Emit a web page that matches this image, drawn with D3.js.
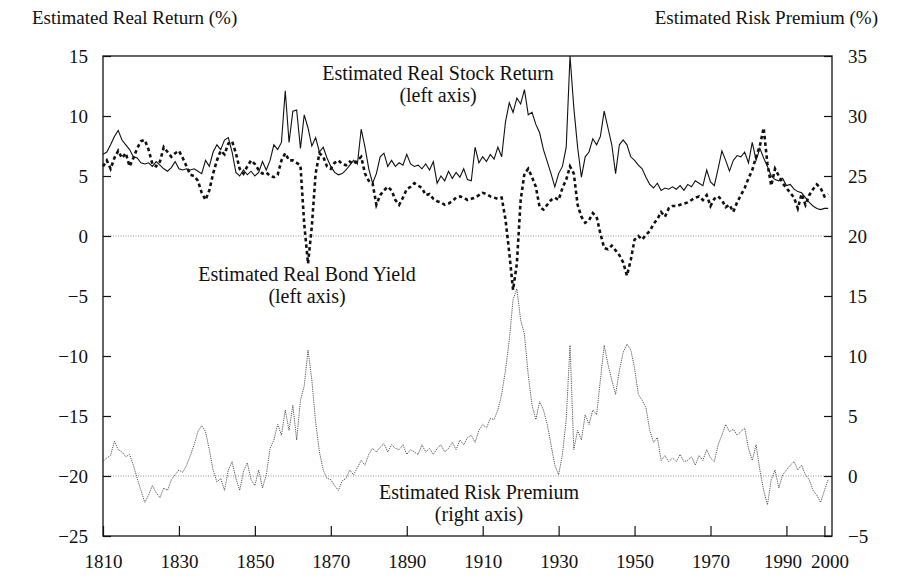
<!DOCTYPE html>
<html>
<head>
<meta charset="utf-8">
<script src="https://cdn.jsdelivr.net/npm/d3@7"></script>
<style>
  body { margin: 0; background: #fff; }
  text { font-family: "Liberation Serif", "Times New Roman", serif; fill: #111; }
</style>
</head>
<body>
<div id="chart-container"></div>
<script>
// annual values, 1810-2001
const years = d3.range(1810, 2002);

// estimated real stock return (%), left axis
const stockReturn = [
  6.8, 7.0, 7.6, 8.3, 8.8, 8.0, 7.6, 7.2, 6.6, 6.5,
  6.1, 6.0, 6.1, 5.8, 6.2, 5.9, 5.6, 5.4, 5.7, 6.2,
  5.6, 5.5, 5.6, 5.5, 5.6, 5.4, 5.2, 6.3, 5.8, 7.0,
  7.6, 7.2, 8.0, 8.2, 7.0, 5.3, 5.0, 5.5, 5.1, 5.4,
  5.0, 5.3, 6.2, 5.5, 6.3, 7.6, 7.2, 7.8, 12.1, 7.8,
  10.4, 10.5, 7.3, 10.1, 9.0, 7.5, 8.2, 7.0, 7.4, 6.5,
  5.8, 5.3, 5.1, 5.2, 5.5, 5.9, 6.3, 6.0, 8.9, 7.4,
  5.6, 4.4, 5.2, 6.6, 6.9, 5.8, 6.3, 5.8, 6.1, 5.9,
  6.8, 6.0, 5.8, 5.9, 5.6, 6.0, 5.5, 6.2, 4.4, 5.0,
  4.6, 5.4, 4.8, 5.3, 4.9, 5.6, 4.7, 4.6, 7.4, 6.1,
  6.6, 6.2, 6.8, 6.4, 7.4, 6.6, 9.5, 11.1, 10.3, 11.5,
  11.0, 12.2, 10.1, 10.3, 9.3, 8.6, 7.2, 6.2, 5.2, 4.1,
  5.2, 5.8, 7.4, 15.0, 10.7, 7.4, 4.9, 6.6, 7.0, 8.1,
  7.6, 8.3, 10.4, 9.0, 7.6, 5.2, 7.6, 8.0, 7.6, 6.6,
  6.3, 5.9, 5.6, 4.9, 4.3, 4.0, 4.4, 3.8, 4.0, 3.9,
  4.1, 3.9, 4.2, 3.8, 4.3, 4.1, 4.6, 4.4, 4.2, 5.5,
  4.5, 4.2, 5.6, 7.1, 6.3, 5.4, 6.3, 6.7, 6.6, 7.0,
  6.1, 7.8, 6.3, 7.3, 6.5, 5.8, 5.0, 4.7, 4.6, 4.8,
  4.2, 4.3, 3.9, 3.7, 3.6, 3.2, 2.8, 2.5, 2.3, 2.2,
  2.3, 2.3
];

// estimated real bond yield (%), left axis
const bondYield = [
  5.8, 6.3, 5.6, 6.5, 7.1, 6.5, 6.9, 5.8, 6.5, 7.3,
  7.9, 8.0, 7.2, 6.0, 5.8, 6.2, 7.4, 7.0, 6.6, 6.9,
  7.1, 6.5, 5.8, 5.1, 5.0, 4.6, 3.6, 3.0, 3.8, 5.2,
  6.3, 7.1, 6.8, 7.7, 7.9, 6.9, 5.6, 5.2, 5.8, 6.3,
  6.0, 5.5, 5.2, 5.3, 5.0, 4.9, 5.1, 6.3, 6.9, 6.3,
  6.3, 6.1, 5.9, 1.0, -2.3, 0.8, 5.2, 6.9, 6.6, 5.8,
  5.6, 6.1, 6.3, 6.0, 5.9, 6.2, 6.0, 6.3, 6.6, 5.2,
  4.6, 4.4, 2.6, 3.4, 3.8, 4.1, 3.8, 3.0, 2.6, 3.2,
  3.9, 4.1, 4.4, 4.2, 4.0, 3.4, 3.5, 3.1, 2.9, 2.8,
  2.6, 2.7, 2.9, 3.2, 3.3, 3.2, 3.0, 3.1, 3.2, 3.4,
  3.6, 3.5, 3.3, 3.2, 3.1, 3.2, 1.4, -1.4, -4.5, -2.3,
  3.0, 5.2, 5.6, 4.9, 4.1, 2.4, 2.2, 2.6, 3.0, 3.2,
  3.0, 4.0, 4.7, 5.8, 5.2, 2.6, 1.6, 1.1, 1.3, 1.9,
  1.6, 0.2, -1.0, -1.1, -0.8, -1.2, -1.6, -2.2, -3.3, -2.0,
  -0.3, 0.0, -0.3, 0.1, 0.4, 1.0, 1.4, 2.0, 1.6, 2.3,
  2.5, 2.5, 2.6, 2.7, 2.8, 3.0, 3.2, 3.3, 3.0, 3.4,
  2.5, 3.1, 3.3, 3.0, 2.4, 2.6, 2.0, 2.8, 3.4, 4.0,
  4.8, 5.5, 6.6, 7.5, 9.0, 6.0, 4.2, 5.6, 5.0, 4.4,
  4.0, 3.6, 3.2, 2.3, 3.5, 2.6, 3.4, 3.9, 4.3, 4.0,
  3.3, 3.5
];

// estimated risk premium (%), right axis
const riskPremium = [
  1.2, 1.5, 1.7, 2.9, 2.2, 2.0, 1.6, 1.8, 0.9, -0.2,
  -1.2, -2.2, -1.6, -0.8, -1.4, -1.8, -1.0, -1.2, -0.3, 0.1,
  0.5, 0.3, 0.9, 1.7, 2.6, 3.7, 4.2, 3.7, 2.2, 0.5,
  -0.5, -0.2, -1.2, 0.5, 1.2, -0.2, -1.2, 0.4, 1.1, -0.3,
  -0.8, 0.5, -1.0, 0.1, 2.3, 3.0, 4.3, 3.4, 5.5, 3.8,
  5.9, 3.0, 6.3, 7.5, 10.5, 8.0, 4.5, 2.0, 0.5, -0.2,
  -0.3, -0.8, -1.2, -0.4, -0.2, 0.5, 0.1, 0.7, 1.3, 0.9,
  1.8, 2.3, 2.0, 2.4, 2.7, 2.0, 2.6, 2.3, 2.2, 2.6,
  1.8, 2.2, 2.0, 1.8, 2.6, 2.0, 2.3, 1.8, 2.3, 2.6,
  2.0, 2.3, 2.8, 2.2, 3.0, 2.6, 3.2, 3.4, 2.8, 3.8,
  4.3, 4.0, 4.8, 4.7, 5.5, 6.8, 8.8, 11.3, 14.7, 15.6,
  13.0, 11.8, 8.4, 5.9, 4.7, 6.2, 5.5, 4.3, 2.6, 0.9,
  0.1, 1.8, 4.7, 10.9, 2.2, 3.8, 3.0, 5.1, 4.3, 5.5,
  5.1, 8.0, 10.9, 9.3, 8.0, 6.8, 8.8, 10.3, 11.0, 10.5,
  9.0, 6.8, 6.3, 5.7, 3.8, 2.8, 3.2, 1.3, 1.7, 1.2,
  1.5, 1.2, 1.8, 1.2, 1.3, 1.6, 0.9, 1.7, 1.3, 2.2,
  1.5, 1.2, 2.6, 3.4, 4.3, 3.7, 3.9, 3.4, 3.7, 4.0,
  2.3, 1.3, 2.6, 0.5, -1.2, -2.4, -0.3, 0.5, -1.0, 0.1,
  0.5, 0.9, 1.2, 0.5, 0.9, 0.1, -0.3, -1.2, -1.6, -2.2,
  -1.2, -0.3
];

const xTicks = [1810, 1830, 1850, 1870, 1890, 1910, 1930, 1950, 1970, 1990, 2000];
const leftTicks = [-25, -20, -15, -10, -5, 0, 5, 10, 15];
const rightTicks = [-5, 0, 5, 10, 15, 20, 25, 30, 35];

// plot box
const margin = {top: 56, right: 69, bottom: 52, left: 103};
const W = 901, H = 588;
const width = W - margin.left - margin.right;
const height = H - margin.top - margin.bottom;

const x = d3.scaleLinear().domain([1810, 2002]).range([0, width]);
const yL = d3.scaleLinear().domain([-25, 15]).range([height, 0]);
const yR = d3.scaleLinear().domain([-5, 35]).range([height, 0]);

const root = d3.select("#chart-container")
  .append("svg")
  .attr("width", W)
  .attr("height", H);

root.append("rect").attr("width", W).attr("height", H).attr("fill", "#fff");

const svg = root.append("g")
  .attr("transform", `translate(${margin.left},${margin.top})`);

// zero lines for both axes
svg.append("line")
  .attr("x1", 0).attr("x2", width)
  .attr("y1", yL(0)).attr("y2", yL(0))
  .attr("stroke", "#777").attr("stroke-width", 0.8)
  .attr("stroke-dasharray", "1,1.5");

svg.append("line")
  .attr("x1", 0).attr("x2", width)
  .attr("y1", yR(0)).attr("y2", yR(0))
  .attr("stroke", "#777").attr("stroke-width", 0.8)
  .attr("stroke-dasharray", "1,1.5");

// axes, ticks pointing inside
const fontSize = "19px";

svg.append("g")
  .style("font-size", fontSize)
  .call(d3.axisLeft(yL).tickValues(leftTicks).tickSize(-8).tickPadding(15))
  .call(g => g.select(".domain").remove())
  .call(g => g.selectAll(".tick line").attr("stroke", "#111").attr("stroke-width", 1.2));

svg.append("g")
  .attr("transform", `translate(${width},0)`)
  .style("font-size", fontSize)
  .call(d3.axisRight(yR).tickValues(rightTicks).tickSize(-8).tickPadding(16))
  .call(g => g.select(".domain").remove())
  .call(g => g.selectAll(".tick line").attr("stroke", "#111").attr("stroke-width", 1.2));

svg.append("g")
  .attr("transform", `translate(0,${height})`)
  .style("font-size", fontSize)
  .call(d3.axisBottom(x).tickValues(xTicks).tickFormat(d3.format("d")).tickSize(-10).tickPadding(19))
  .call(g => g.select(".domain").remove())
  .call(g => g.selectAll(".tick line").attr("stroke", "#111").attr("stroke-width", 1.2))
  // the last two labels sit close together, nudge them apart
  .call(g => g.selectAll(".tick text")
    .attr("dx", d => d === 1990 ? -4 : d === 2000 ? 5 : 0));

svg.selectAll(".tick text")
  .style("font-family", '"Liberation Serif", serif')
  .attr("fill", "#111");

// frame
svg.append("rect")
  .attr("width", width).attr("height", height)
  .attr("fill", "none")
  .attr("stroke", "#111")
  .attr("stroke-width", 1.3);

// series
const lineL = vals => d3.line()
  .x((d, i) => x(years[i]))
  .y(d => yL(d))(vals);

const lineR = vals => d3.line()
  .x((d, i) => x(years[i]))
  .y(d => yR(d))(vals);

svg.append("path")
  .attr("d", lineR(riskPremium))
  .attr("fill", "none")
  .attr("stroke", "#444")
  .attr("stroke-width", 0.9)
  .attr("stroke-dasharray", "1.2,1");

svg.append("path")
  .attr("d", lineL(bondYield))
  .attr("fill", "none")
  .attr("stroke", "#111")
  .attr("stroke-width", 2.6)
  .attr("stroke-dasharray", "3.5,3");

svg.append("path")
  .attr("d", lineL(stockReturn))
  .attr("fill", "none")
  .attr("stroke", "#111")
  .attr("stroke-width", 1.1);

// annotations
const note = (tx, ty, str) => root.append("text")
  .attr("x", tx).attr("y", ty)
  .attr("text-anchor", "middle")
  .style("font-size", "20px")
  .text(str);

note(438, 80, "Estimated Real Stock Return");
note(438, 102, "(left axis)");
note(307, 281, "Estimated Real Bond Yield");
note(307, 303, "(left axis)");
note(479, 499, "Estimated Risk Premium");
note(479, 521, "(right axis)");

// axis titles
root.append("text")
  .attr("x", 32).attr("y", 24)
  .style("font-size", "19px")
  .text("Estimated Real Return (%)");

root.append("text")
  .attr("x", 878).attr("y", 24)
  .attr("text-anchor", "end")
  .style("font-size", "19px")
  .text("Estimated Risk Premium (%)");
</script>
</body>
</html>
